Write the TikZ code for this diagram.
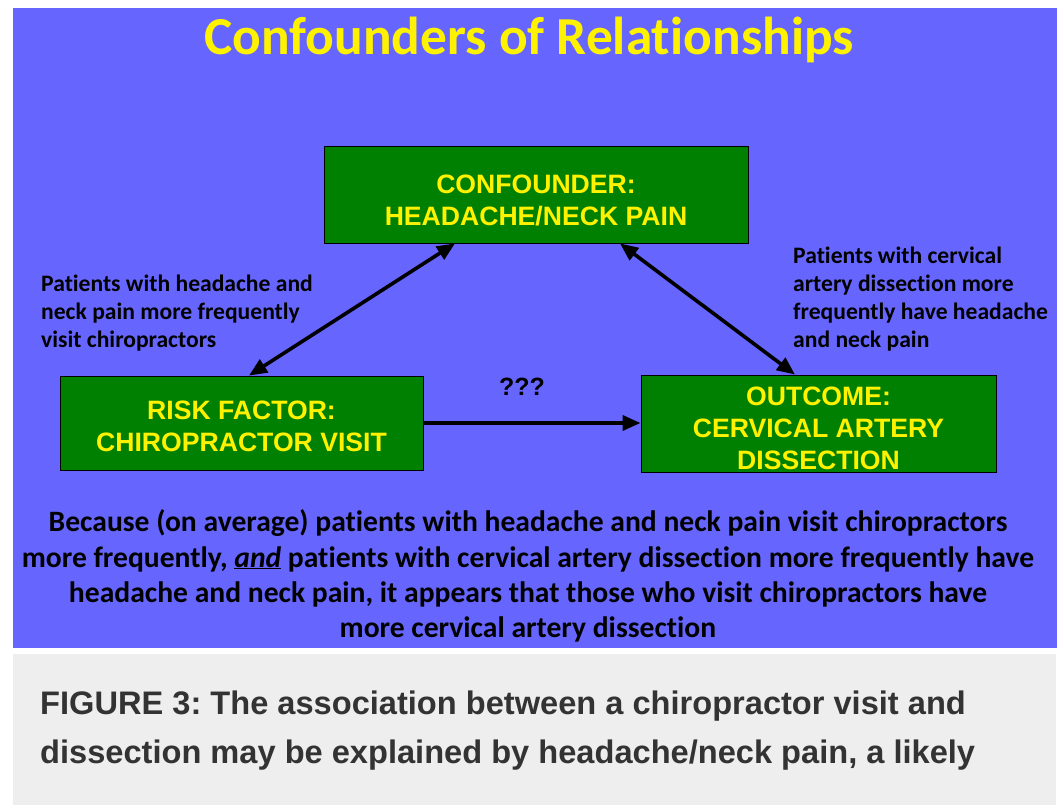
\documentclass[tikz,border=0pt]{standalone}
\usepackage{fontspec}
\setmainfont{Carlito}[Ligatures=NoCommon]
\newfontfamily\arialb{Liberation Sans}[BoldFont=* Bold]
\usetikzlibrary{arrows.meta,calc}
\definecolor{bgblue}{HTML}{6666FF}
\definecolor{boxgreen}{HTML}{008000}
\definecolor{capgray}{HTML}{EEEEEE}
\definecolor{captext}{HTML}{333333}
\frenchspacing
\tikzset{
  box/.style={draw=black, line width=0.9pt, fill=boxgreen, inner sep=0pt},
  boxtext/.style={text=yellow, inner sep=0pt, align=center, font=\arialb\bfseries\fontsize{26.6}{32}\selectfont},
  lab/.style={align=left, inner sep=0pt, text=black, font=\bfseries\fontsize{23.6}{28}\selectfont},
  conn/.style={line width=3.6pt, black},
  tip/.style={-{Triangle[length=18pt,width=15pt]}},
  dtip/.style={{Triangle[length=18pt,width=15pt]}-{Triangle[length=18pt,width=15pt]}}
}
\begin{document}
\begin{tikzpicture}[x=1pt,y=-1pt]
\useasboundingbox (0,0) rectangle (1061,805);
\fill[white] (0,0) rectangle (1061,805);
\fill[bgblue] (13,8) rectangle (1057,648);
\fill[capgray] (13,654) rectangle (1056,805);

\node[text=yellow, inner sep=0pt, font=\bfseries\fontsize{53.4}{60}\selectfont] (title) at (529,40) {Confounders of Relationships};

\node[box, minimum width=424pt, minimum height=97pt] (top) at (536,194.5) {};
\node[boxtext] (toptext) at ([yshift=-6pt]top.center) {CONFOUNDER:\\HEADACHE/NECK PAIN};
\node[box, minimum width=363pt, minimum height=94pt] (left) at (241.5,423) {};
\node[boxtext] (lefttext) at ([yshift=-3pt]left.center) {RISK FACTOR:\\CHIROPRACTOR VISIT};
\node[box, minimum width=355pt, minimum height=97pt] (right) at (818.5,423.5) {};
\node[boxtext] (righttext) at ([yshift=-4.5pt]right.center) {OUTCOME:\\CERVICAL ARTERY\\DISSECTION};

\draw[conn, dtip] ([xshift=7.5pt]left.north) -- ([xshift=-81pt]top.south);
\draw[conn, dtip] ([xshift=84pt]top.south) -- ([xshift=-23.5pt]right.north);
\draw[conn, tip] (left.east) -- (right.west |- left.east);

\node[inner sep=0pt, font=\arialb\bfseries\fontsize{25}{28}\selectfont] (q) at (522,387) {???};

\node[lab, anchor=west] (llab) at (41,313) {Patients with headache and\\neck pain more frequently\\visit chiropractors};
\node[lab, anchor=west] (rlab) at (793,299) {Patients with cervical\\artery dissection more\\frequently have headache\\and neck pain};

\node[align=center, inner sep=0pt, font=\bfseries\fontsize{29.6}{35.3}\selectfont] (para) at (528,576)
{Because (on average) patients with headache and neck pain visit chiropractors\\
more frequently, \textit{\underline{and}} patients with cervical artery dissection more frequently have\\
headache and neck pain, it appears that those who visit chiropractors have\\
more cervical artery dissection};

\node[anchor=west, align=left, inner sep=0pt, text=captext, font=\arialb\bfseries\fontsize{32.6}{49}\selectfont] (cap) at (40,731)
{FIGURE 3: The association between a chiropractor visit and\\
dissection may be explained by headache/neck pain, a likely};
\end{tikzpicture}
\end{document}
